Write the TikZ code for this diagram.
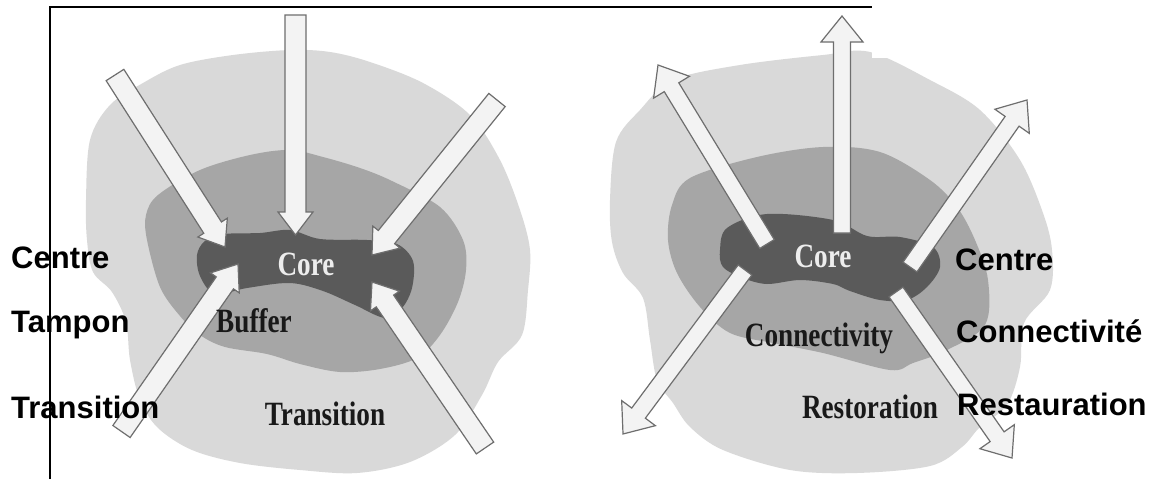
\documentclass[tikz,border=0pt]{standalone}
\usepackage{fontspec}
\usepackage{graphicx}
\setmainfont{Liberation Serif}
\newfontfamily\labfont{Liberation Sans}
\definecolor{outerc}{HTML}{D9D9D9}
\definecolor{midc}{HTML}{A6A6A6}
\definecolor{corec}{HTML}{5A5A5A}
\definecolor{arrfill}{HTML}{F3F3F3}
\definecolor{arrline}{HTML}{6E6E6E}
\tikzset{
  fatarr/.style={fill=arrfill, draw=arrline, line width=1.2pt, line join=miter},
  outerblob/.style={fill=outerc},
  midblob/.style={fill=midc},
  coreblob/.style={fill=corec},
  zonetext/.style={inner sep=0pt, anchor=base, text=black!90, font=\fontsize{34}{37}\selectfont\bfseries},
  coretext/.style={zonetext, text=white!93!black},
  labeltext/.style={inner sep=0pt, anchor=base west, text=black, font=\labfont\fontsize{31}{34}\selectfont\bfseries},
  frameline/.style={draw=black, line width=1.3pt}
}
\newcommand\fatarrow[7]{%
  \pgfmathsetmacro\fa{atan2(-(#4-#2),#3-#1)}%
  \pgfmathsetmacro\fl{veclen(#3-#1,#4-#2)}%
  \pgfmathsetmacro\fb{\fl-#7}%
  \begin{scope}[shift={(#1,#2)},rotate=\fa]
    \draw[fatarr] (0,#5) -- (\fb,#5) -- (\fb,#6) -- (\fl,0) -- (\fb,-#6) -- (\fb,-#5) -- (0,-#5) -- cycle;
  \end{scope}}
\newcommand\cond[1]{\scalebox{0.8}[1]{#1}}
\begin{document}
\begin{tikzpicture}[x=1pt,y=-1pt]
\useasboundingbox (0,0) rectangle (1174,479);
\fill[white] (0,0) rectangle (1174,479);
% ---------- left diagram ----------
\fill[outerblob] plot[smooth cycle, tension=0.55] coordinates {
 (87,240) (86,200) (90,140) (110,105) (143,83) (180,65) (233,55) (290,50) (330,52) (370,62) (423,83) (470,115) (500,160) (520,210) (530,250) (528,290) (522,335) (498,362) (482,395) (455,435) (410,462) (357,473) (300,470) (240,463) (192,450) (158,428) (140,400) (130,360) (126,322) (112,292) (93,272)};
\fill[midblob] plot[smooth cycle, tension=0.55] coordinates {
 (147,240) (146,215) (158,195) (200,170) (250,155) (290,150) (323,157) (360,168) (392,181) (440,207) (463,240) (466,270) (458,302) (440,335) (417,358) (380,369) (340,372) (300,364) (267,354) (225,347) (200,335) (180,316) (160,287)};
\fill[coreblob] plot[smooth cycle, tension=0.55] coordinates {
 (197,255) (205,241) (225,234) (260,233) (290,230) (320,239) (367,240) (397,244) (413,261) (412,288) (402,308) (385,318) (355,305) (323,291) (290,283) (247,288) (215,294) (200,276)};
\fatarrow{295.5}{15}{295.5}{235}{10.5}{17.5}{23}
\fatarrow{115}{75}{225}{247}{10.5}{17.5}{23}
\fatarrow{497}{100}{372}{255}{10.5}{17.5}{23}
\fatarrow{121.5}{431.5}{238}{264}{10.5}{17.5}{23}
\fatarrow{485}{448}{372}{282}{10.5}{17.5}{23}
\node[coretext] (lcore) at (306,275) {\cond{Core}};
\node[zonetext] (lbuffer) at (254,332) {\cond{Buffer}};
\node[zonetext] (ltrans) at (325,425) {\cond{Transition}};
% ---------- right diagram ----------
\fill[outerblob] plot[smooth cycle, tension=0.55] coordinates {
 (610,200) (616,142) (640,110) (673,80) (740,65) (823,55) (870,52) (930,80) (980,110) (1020,160) (1043,213) (1052,250) (1050,290) (1024,323) (1020,367) (1007,405) (980,427) (962,447) (930,466) (857,473) (790,470) (723,450) (690,427) (673,403) (657,380) (650,340) (643,298) (623,273) (612,242)};
\fill[white] (872,0) rectangle (1174,58);
\fill[midblob] plot[smooth cycle, tension=0.55] coordinates {
 (668,240) (672,205) (690,178) (757,157) (823,147) (880,152) (930,180) (957,207) (975,240) (988,280) (985,325) (947,350) (913,363) (890,370) (823,353) (773,343) (730,333) (700,307) (677,273)};
\fill[coreblob] plot[smooth cycle, tension=0.55] coordinates {
 (720,250) (727,228) (767,214) (833,220) (867,236) (900,237) (933,247) (940,267) (927,287) (907,300) (880,300) (850,291) (833,284) (800,280) (767,284) (743,278) (723,267)};
\fatarrow{842}{233}{842}{16}{8.5}{21}{26}
\fatarrow{767}{244}{658}{65}{8.5}{21}{26}
\fatarrow{910}{267}{1027}{100}{8.5}{21}{26}
\fatarrow{745}{270}{623}{434}{8.5}{21}{26}
\fatarrow{896}{292}{1012}{458}{8.5}{21}{26}
\node[coretext] (rcore) at (823,267) {\cond{Core}};
\node[zonetext] (rconn) at (819,346) {\cond{Connectivity}};
\node[zonetext] (rrest) at (870,418) {\cond{Restoration}};
% ---------- frame ----------
\coordinate (fbot) at (50,479);
\coordinate (fcorner) at (50,7);
\coordinate (fend) at (872,7);
\draw[frameline] (fbot) -- (fcorner) -- (fend);
% ---------- French labels ----------
\node[labeltext] (lcentre) at (11,268) {Centre};
\node[labeltext] (ltampon) at (11,332) {Tampon};
\node[labeltext] (ltransfr) at (11,418) {Transition};
\node[labeltext] (rcentre) at (955,270) {Centre};
\node[labeltext] (rconnfr) at (956,342) {Connectivité};
\node[labeltext] (rrestfr) at (957,415) {Restauration};
\end{tikzpicture}
\end{document}
